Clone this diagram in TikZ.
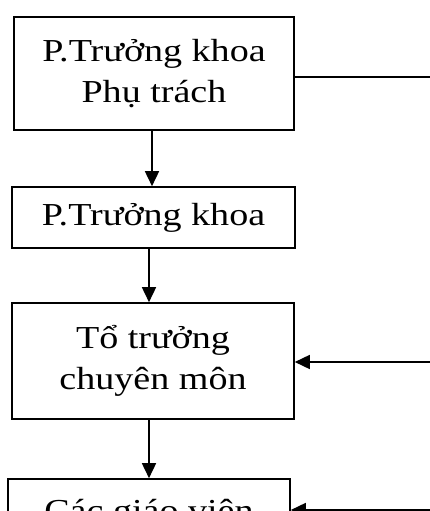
\documentclass[tikz,border=0pt]{standalone}
\usepackage{fontspec}
\setmainfont[FakeStretch=1.19]{Liberation Serif}
\usetikzlibrary{arrows.meta}
\begin{document}
\begin{tikzpicture}[x=1pt,y=-1pt,
        box/.style={draw,line width=1.6pt,inner sep=0pt,align=center,
            font={\fontsize{32}{41}\selectfont}},
        arr/.style={line width=1.6pt,-{Triangle[length=15pt,width=14pt]}}]
        \useasboundingbox (0,0) rectangle (430,511);
        \clip (0,0) rectangle (430,511);
        \node[box,minimum width=280pt,minimum height=113pt] (ptk1) at (154,73.5) {P.Trưởng khoa\\Phụ trách};
        \node[box,minimum width=283pt,minimum height=61pt] (ptk2) at (153.5,217.5) {P.Trưởng khoa};
        \node[box,minimum width=282pt,minimum height=116pt] (tt) at (153,361) {Tổ trưởng\\chuyên môn};
        \node[box,minimum width=282pt,minimum height=70pt] (gv) at (149,514) {Các giáo viên};
        \coordinate (r1) at (430,77);
        \coordinate (r2) at (430,362);
        \coordinate (r3) at (430,510);
        \draw[line width=1.6pt] (ptk1.east |- r1) -- (r1);
        \draw[arr] (ptk1.south -| 152,0) -- (ptk2.north -| 152,0);
        \draw[arr] (ptk2.south -| 149,0) -- (tt.north -| 149,0);
        \draw[arr] (tt.south -| 149,0) -- (gv.north -| 149,0);
        \draw[arr] (r2) -- (tt.east |- r2);
        \draw[arr] (r3) -- (gv.east |- r3);
    \end{tikzpicture}
\end{document}
